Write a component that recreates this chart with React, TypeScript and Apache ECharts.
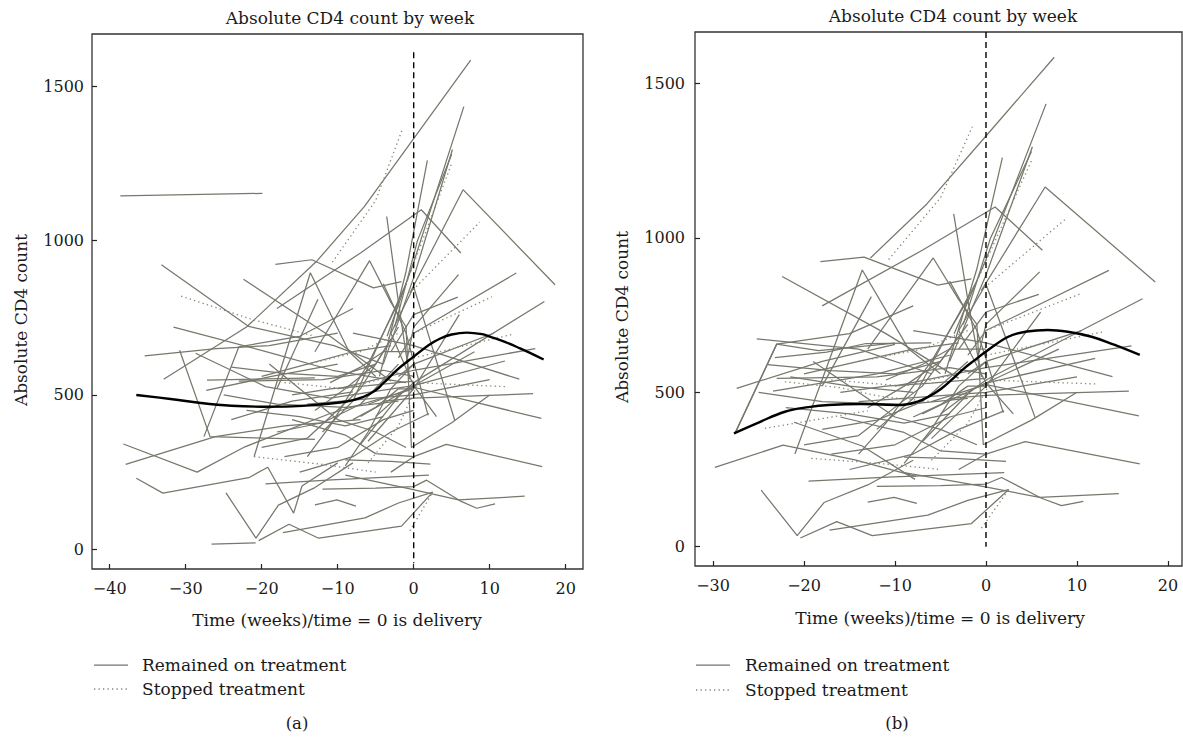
import React, { useEffect, useRef } from "react";
import * as echarts from "echarts";

// ---------- DATA (weeks relative to delivery, CD4 count) ----------
const xTicksA = [-40, -30, -20, -10, 0, 10, 20];
const xTicksB = [-30, -20, -10, 0, 10, 20];
const yTicks = [0, 500, 1000, 1500];

// trajectories present in both panels
const sharedSolid: number[][][] = [
  [[-12.7, 935], [-6.5, 1110], [0, 1330], [7.5, 1585]],
  [[-0.5, 830], [6.5, 1165], [18.6, 857]],
  [[-3.5, 690], [0, 930], [6.6, 1434]],
  [[-4, 600], [0, 880], [5.1, 1295]],
  [[-2.5, 720], [0.5, 1000], [5, 1280]],
  [[-4.5, 560], [-1, 900], [1.8, 1260]],
  [[-18, 780], [-7, 960], [1, 1100], [6.2, 960]],
  [[-22.4, 875], [-11, 690], [-3, 545]],
  [[-18.2, 923], [-13.4, 938], [-5.3, 847], [-1.6, 867]],
  [[-21, 300], [-13.6, 896], [-8.5, 640], [-5, 560]],
  [[-24.7, 183], [-20.75, 36], [-17.8, 143], [-13, 200], [-8, 280]],
  [[-20.4, 28], [-16.4, 81], [-12.5, 36], [-1.6, 75], [0, 118], [2.5, 185]],
  [[-19.5, 212], [-10.8, 225], [2, 240]],
  [[-17.2, 54], [-6.4, 102], [-2, 150], [2.5, 185]],
  [[-13, 144], [-10.1, 160], [-7.6, 140]],
  [[-12, 195], [-5, 198], [0, 203], [1.7, 224], [6.1, 157], [8.3, 133], [10.7, 147]],
  [[-9, 240], [-0.5, 196], [5.9, 160], [14.6, 172]],
  [[-9, 290], [-3, 285], [2.2, 276]],
  [[-3, 250], [0, 300], [4.3, 340], [16.9, 268]],
  [[-1, 720], [-0.3, 330], [5, 410], [10, 500]],
  [[-6, 470], [0, 525], [16.8, 424]],
  [[-4, 480], [0, 490], [15.7, 504]],
  [[-5, 430], [0, 540], [17.2, 803]],
  [[-2, 620], [0, 700], [13.5, 895]],
  [[-1, 600], [0, 720], [5.9, 890]],
  [[-3, 640], [0, 760], [5.8, 817]],
  [[-8, 700], [0, 660], [13.9, 551]],
  [[-10, 520], [0, 580], [16, 650]],
  [[-3, 700], [0, 850], [5.4, 418]],
  [[-4, 860], [-1, 700], [1.9, 434]],
  [[-7, 430], [0, 530], [8, 640]],
  [[-3, 700], [0, 530], [12, 610]],
  [[-6, 350], [0, 520], [6, 760]],
  [[-14, 470], [0, 500], [10, 550]],
  [[-13, 640], [-5.8, 935], [-3, 800], [-1, 720]],
  [[-3.55, 1078], [-2, 800], [-0.5, 550]],
  [[-17, 300], [-10, 330], [-4, 420], [0, 450]],
  [[-15, 250], [-8, 300], [-3, 380], [2, 440]],
  [[-20, 330], [-14, 360], [-7, 520], [-3, 680]],
  [[-16, 420], [-9, 370], [-5, 310], [0, 300]],
  [[-25, 500], [-18, 470], [-9, 460], [-2, 480]],
  [[-23, 545], [-12, 550], [-4, 580], [0, 560]],
  [[-14, 300], [-11, 400], [-6, 600], [-2, 800]],
  [[-12, 380], [-8, 480], [-4, 700], [-1, 860]],
  [[-9, 270], [-6, 380], [-3, 520], [0, 600]],
  [[-19, 600], [-10, 420], [-5, 380], [-1, 330]],
  [[-7, 340], [-1.5, 510], [0, 530], [3, 430]],
  [[-18, 520], [-12.6, 810]],
  [[-27.6, 365], [-23, 656], [-15, 690], [-8, 780]],
  [[-2, 560], [0, 600], [10.5, 700]],
  [[-20, 560], [-14, 600], [-8, 640], [-3, 660]],
  [[-16, 500], [-11, 520], [-6, 530], [0, 545]],
  [[-22, 450], [-15, 430], [-9, 400], [-4, 430]],
  [[-11, 540], [-7, 590], [-4, 640], [0, 640]],
  [[-18, 380], [-12, 410], [-7, 470], [-2, 600]],
  [[-13, 450], [-9, 520], [-5, 600], [-2, 720]],
  [[-8, 420], [-5, 460], [-2, 520], [0, 520]],
  [[-24, 590], [-17, 570], [-10, 560], [-5, 600]],
];

const onlyASolid: number[][][] = [
  [[-38.6, 1145], [-19.9, 1153]],
  [[-32.9, 551], [-22, 720], [-12.7, 935]],
  [[-33.2, 922], [-21.7, 722], [-10.5, 660], [-4, 600]],
  [[-31.6, 720], [-18.6, 635], [-10.7, 580], [-1, 540]],
  [[-35.4, 627], [-26, 650], [-19, 660], [-10, 700]],
  [[-30.8, 645], [-26.8, 365], [-13, 356]],
  [[-28.7, 635], [-19.5, 527], [-11, 490], [0, 530]],
  [[-38.2, 341], [-28.5, 250], [-22.2, 332], [-11, 440], [0, 520]],
  [[-37.9, 275], [-26.1, 365], [-17, 400], [-7, 420]],
  [[-36.5, 230], [-33, 182], [-21.7, 232], [-19.2, 266], [-15.8, 117], [-14.7, 205], [-10, 280]],
  [[-26.6, 17], [-20.8, 21]],
  [[-27.2, 548], [-13, 555]],
  [[-27.3, 515], [-18.7, 560], [-10, 600]],
  [[-24, 420], [-16, 480], [-8, 510]],
];

const onlyBSolid: number[][][] = [
  [[-27.6, 367], [-23, 656], [-18.4, 635], [-10, 659]],
  [[-25.2, 673], [-14, 640], [-6, 560]],
  [[-29.8, 257], [-22.3, 329], [-14.4, 281], [-7.7, 228]],
  [[-27.4, 513], [-18, 600], [-10, 655]],
  [[-23.4, 504], [-12, 560], [-4, 620]],
  [[-23.2, 612], [-17.5, 630], [-13.2, 658], [-6, 660]],
  [[-21.1, 403], [-13.6, 326], [-7.8, 218]],
  [[-21.5, 550], [-15, 520], [-8, 500]],
];

const sharedDotted: number[][][] = [
  [[-10.7, 930], [-5, 1130], [-1.5, 1360]],
  [[-0.5, 830], [8.7, 1060]],
  [[-1, 860], [5, 1250]],
  [[0, 700], [10.3, 818]],
  [[0, 540], [12, 527]],
  [[0, 620], [13.1, 697]],
  [[-0.5, 60], [2.5, 185]],
  [[-17, 540], [-9, 520], [-3, 560]],
  [[-14, 600], [-7, 640], [-2, 700]],
  [[-6, 280], [-2, 400], [1, 560]],
];

const onlyADotted: number[][][] = [
  [[-30.6, 820], [-21.3, 745], [-13, 690]],
  [[-21, 300], [-12, 275], [-5, 250]],
];

const onlyBDotted: number[][][] = [
  [[-24.3, 383], [-19, 410], [-13, 440]],
  [[-22.1, 534], [-16, 515], [-11.5, 486], [-6, 470]],
  [[-19.2, 286], [-14, 275], [-10, 265], [-5, 250]],
];

const meanA: number[][] = [
  [-36.5, 500], [-32, 487], [-28, 474], [-24, 465], [-20, 462], [-16, 463], [-12, 470],
  [-9, 478], [-6.6, 494], [-5, 515], [-4, 538], [-2, 585], [0, 624], [2, 662], [3.5, 683],
  [5, 696], [7, 702], [9, 697], [10, 689], [12, 672], [14, 651], [15.5, 634], [17.1, 615],
];

const meanB: number[][] = [
  [-27.7, 367], [-25, 402], [-22.1, 437], [-19.5, 452], [-17.3, 459], [-13.7, 462], [-9.3, 459],
  [-7.5, 470], [-6.3, 486], [-5, 510], [-3.8, 540], [-2.5, 575], [-1.2, 605], [0, 632],
  [2.45, 680], [4.5, 697], [6.8, 702], [9, 696], [11.6, 680], [14, 655], [16.9, 621],
];

const deliveryA: number[][] = [[0, 1610], [0, -45]];
const deliveryB: number[][] = [[0, 1667], [0, 0]];

// ---------- STYLE ----------
const FONT = '"DejaVu Serif", "Liberation Serif", serif';
const LINE_COLOR = "#77776c";
const DOT_COLOR = "#85857a";
const TEXT = "#1a1a1a";

const numFmt = (v: number) => String(v).replace("-", "\u2212");

function panelSeries(gi: number, solid: number[][][], dotted: number[][][], mean: number[][], vline: number[][]) {
  const s: any[] = [];
  solid.forEach((d) =>
    s.push({
      type: "line", xAxisIndex: gi, yAxisIndex: gi, data: d, symbol: "none", silent: true,
      lineStyle: { color: LINE_COLOR, width: 1.25 }, z: 2,
    })
  );
  dotted.forEach((d) =>
    s.push({
      type: "line", xAxisIndex: gi, yAxisIndex: gi, data: d, symbol: "none", silent: true,
      lineStyle: { color: DOT_COLOR, width: 1.3, type: [1.3, 3.2] }, z: 2,
    })
  );
  s.push({
    type: "line", xAxisIndex: gi, yAxisIndex: gi, data: mean, symbol: "none", silent: true, smooth: 0.4,
    lineStyle: { color: "#000", width: 2.4 }, z: 4,
  });
  s.push({
    type: "line", xAxisIndex: gi, yAxisIndex: gi, data: vline, symbol: "none", silent: true,
    lineStyle: { color: "#000", width: 1.4, type: [6, 4] }, z: 5,
  });
  return s;
}

function xAxisCfg(gi: number, min: number, max: number, ticks: number[]) {
  return {
    gridIndex: gi, type: "value", min, max,
    axisLine: { show: false, onZero: false },
    splitLine: { show: false },
    axisTick: { show: true, inside: true, length: 5, customValues: ticks, lineStyle: { color: "#222", width: 1.2 } },
    axisLabel: { customValues: ticks, formatter: numFmt, margin: 11, fontFamily: FONT, fontSize: 16, color: TEXT },
  };
}

function yAxisCfg(gi: number, min: number, max: number, margin: number) {
  return {
    gridIndex: gi, type: "value", min, max,
    axisLine: { show: false, onZero: false },
    splitLine: { show: false },
    axisTick: { show: true, inside: true, length: 5, customValues: yTicks, lineStyle: { color: "#222", width: 1.2 } },
    axisLabel: { customValues: yTicks, formatter: numFmt, margin, fontFamily: FONT, fontSize: 16, color: TEXT },
  };
}

function txt(x: number, y: number, text: string, size: number, align = "center", rotation = 0) {
  return {
    type: "text", x, y, rotation, silent: true,
    style: { text, x: 0, y: 0, fill: TEXT, font: `${size}px ${FONT}`, align, verticalAlign: "middle", textAlign: align, textVerticalAlign: "middle" },
  };
}

function seg(x1: number, x2: number, y: number, dotted: boolean) {
  return {
    type: "line", silent: true,
    shape: { x1, y1: y, x2, y2: y },
    style: dotted
      ? { stroke: DOT_COLOR, lineWidth: 1.3, lineDash: [1.3, 3.2] }
      : { stroke: LINE_COLOR, lineWidth: 1.25 },
  };
}

export default function App() {
  const ref = useRef<HTMLDivElement>(null);
  useEffect(() => {
    if (!ref.current) return;
    const chart = echarts.init(ref.current, undefined, { renderer: "svg" });
    const option: any = {
      animation: false,
      backgroundColor: "#fff",
      grid: [
        { left: 92, top: 34, width: 491, height: 535, show: true, borderColor: "#333", borderWidth: 1.3, backgroundColor: "transparent" },
        { left: 695, top: 32, width: 487, height: 534, show: true, borderColor: "#333", borderWidth: 1.3, backgroundColor: "transparent" },
      ],
      xAxis: [xAxisCfg(0, -42.33, 22.28, xTicksA), xAxisCfg(1, -31.98, 21.54, xTicksB)],
      yAxis: [yAxisCfg(0, -63.8, 1669.3, 8), yAxisCfg(1, -62.5, 1666.8, 10)],
      series: [
        ...panelSeries(0, [...sharedSolid, ...onlyASolid], [...sharedDotted, ...onlyADotted], meanA, deliveryA),
        ...panelSeries(1, [...sharedSolid, ...onlyBSolid], [...sharedDotted, ...onlyBDotted], meanB, deliveryB),
      ],
      graphic: [
        txt(350, 17.5, "Absolute CD4 count by week", 17),
        txt(953, 15.5, "Absolute CD4 count by week", 17),
        txt(20.5, 320, "Absolute CD4 count", 17, "center", Math.PI / 2),
        txt(622, 317, "Absolute CD4 count", 17, "center", Math.PI / 2),
        txt(337, 620, "Time (weeks)/time = 0 is delivery", 17),
        txt(940, 618, "Time (weeks)/time = 0 is delivery", 17),
        seg(94, 128, 665, false),
        seg(94, 128, 689, true),
        txt(142, 665, "Remained on treatment", 17, "left"),
        txt(142, 689, "Stopped treatment", 17, "left"),
        seg(696, 730, 665, false),
        seg(696, 730, 690, true),
        txt(745, 665, "Remained on treatment", 17, "left"),
        txt(745, 690, "Stopped treatment", 17, "left"),
        txt(297, 723, "(a)", 16.5),
        txt(897, 723, "(b)", 16.5),
      ],
    };
    chart.setOption(option);
    return () => chart.dispose();
  }, []);
  return <div ref={ref} style={{ position: "absolute", left: 0, top: 0, width: 1183, height: 748 }} />;
}
